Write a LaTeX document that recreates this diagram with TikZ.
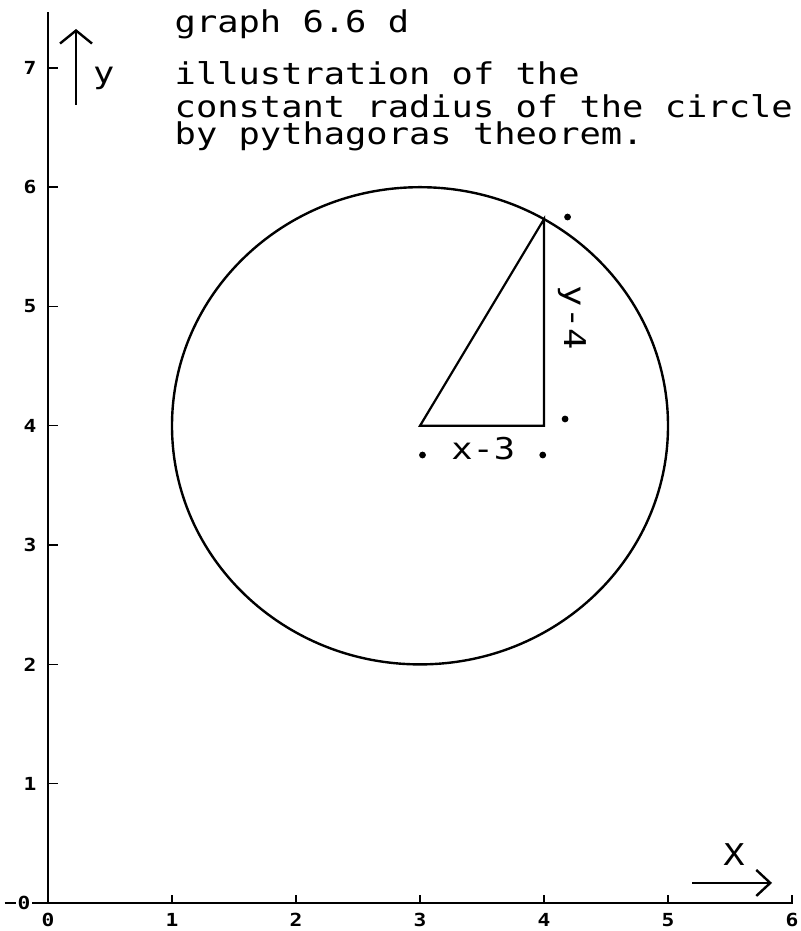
\documentclass[tikz,border=0pt]{standalone}
\usepackage{fontspec}
\usepackage{tikz}
\usetikzlibrary{arrows.meta}
\newfontfamily\plotfont[FakeStretch=1.18]{DejaVu Sans Mono}

\begin{document}
\begin{tikzpicture}[x=62pt,y=59.65pt,line width=1.1pt,
  every node/.style={font=\plotfont\fontsize{15pt}{15pt}\selectfont,inner sep=0.8pt},
  ticklabel/.style={font=\plotfont\bfseries\fontsize{9pt}{9pt}\selectfont},
  dot/.style={fill,circle,inner sep=0pt,minimum size=3.4pt}]
  \useasboundingbox (-24pt,-14pt) rectangle (376pt,451.5pt);
  % axes
  \coordinate (O)  at (0,0);
  \coordinate (Xl) at (-0.35,0);
  \coordinate (Xr) at (6.01,0);
  \coordinate (Yt) at (0,7.47);
  \draw (Xl) -- (Xr);
  \draw (O) -- (Yt);
  \foreach \i in {1,...,6} {
    \draw[line width=0.7pt] (\i,0) -- ++(0,0.067);
    \node[ticklabel] (xl\i) at (\i,-0.142) {\i};
  }
  \foreach \j in {1,...,7} {
    \draw[line width=0.7pt] (0,\j) -- ++(0.08,0);
    \node[ticklabel] (yl\j) at (-0.145,\j) {\j};
  }
  \node[ticklabel] (xl0) at (0,-0.142) {0};
  \node[ticklabel,fill=white] (yl0) at (-0.194,0) {0};
  % axis arrows
  \coordinate (Ya) at (0.226,6.69);
  \coordinate (Yb) at (0.226,7.326);
  \coordinate (Xa) at (5.194,0.168);
  \coordinate (Xb) at (5.839,0.168);
  \draw[line width=1.2pt,-{Straight Barb[length=6.5pt,width=16pt]}] (Ya) -- (Yb);
  \draw[line width=1.2pt,-{Straight Barb[length=7pt,width=13pt]}] (Xa) -- (Xb);
  \node (ylab) at (0.45,6.915) {y};
  \node (xlab) at (5.532,0.402) {X};
  % titles
  \node[anchor=base west] (title) at (1.0,7.30) {graph 6.6 d};
  \node[anchor=base west] (desc1) at (1.0,6.857) {illustration of the};
  \node[anchor=base west] (desc2) at (1.0,6.588) {constant radius of the circle};
  \node[anchor=base west] (desc3) at (1.0,6.354) {by pythagoras theorem.};
  % circle and triangle
  \coordinate (C) at (3,4);
  \coordinate (R) at (4,4);
  \coordinate (P) at (4,5.732);
  \draw[line width=1.2pt] (C) circle [radius=2];
  \draw (C) -- (R) -- (P) -- cycle;
  \node[dot] (d1) at (4.19,5.75) {};
  \node[dot] (d2) at (4.17,4.057) {};
  \node[dot] (d3) at (3.02,3.755) {};
  \node[dot] (d4) at (3.99,3.755) {};
  \node (dx) at (3.51,3.81) {x-3};
  \node[rotate=-90] (dy) at (4.226,4.904) {y-4};
\end{tikzpicture}
\end{document}
